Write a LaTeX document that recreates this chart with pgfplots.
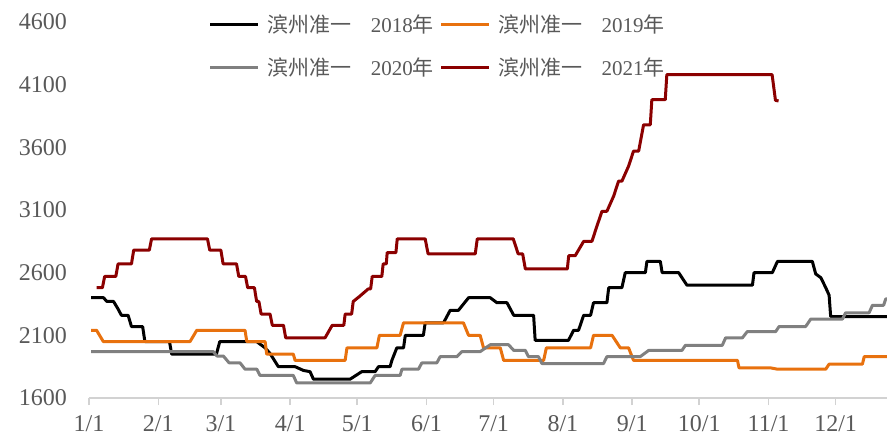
\documentclass[border=0pt]{standalone}
\usepackage{pgfplots}
\pgfplotsset{compat=1.18}
\usepackage{fontspec}
\setmainfont{Liberation Serif}
\newfontfamily\cjk{Noto Sans CJK SC}
\definecolor{txtgray}{RGB}{89,89,89}
\definecolor{axgray}{RGB}{210,210,210}
\definecolor{c19}{RGB}{232,113,14}
\definecolor{c20}{RGB}{128,128,128}
\definecolor{c21}{RGB}{139,0,0}
\newcommand{\ent}[1]{{\cjk 滨州准一}\hspace{0.9em}#1{\cjk 年}}
\begin{document}
\begin{tikzpicture}
\begin{axis}[
    scale only axis,
    width=798pt, height=376pt,
    xmin=0, xmax=357,
    ymin=1600, ymax=4600,
    ytick={1600,2100,...,4600},
    xtick={0,31,59,90,120,151,181,212,243,273,304,334},
    xticklabels={1/1,2/1,3/1,4/1,5/1,6/1,7/1,8/1,9/1,10/1,11/1,12/1},
    separate axis lines,
    axis x line*=bottom,
    axis y line*=left,
    x axis line style={draw=axgray, line width=1.5pt, -},
    y axis line style={draw=none},
    ytick style={draw=none},
    xtick style={draw=axgray, line width=1.5pt},
    xtick align=outside,
    major tick length=7pt,
    /pgf/number format/assume math mode=true,
    /pgf/number format/set thousands separator={},
    ticklabel style={font=\fontsize{24}{24}\selectfont, text=txtgray},
    yticklabel style={anchor=east, inner sep=0pt, xshift=-22pt},
    xticklabel style={anchor=north, inner sep=0pt, yshift=-10pt},
    clip=false,
    legend columns=2,
    legend cell align=left,
    legend style={draw=none, fill=none, at={(axis description cs:0.150,0.936)}, anchor=west,
        inner sep=0pt, row sep=24pt,
        font=\fontsize{21}{21}\selectfont, text=txtgray,
        nodes={inner sep=0pt},
        /tikz/every odd column/.append style={column sep=8pt},
        /tikz/every even column/.append style={column sep=6pt}},
    legend image code/.code={\draw[#1,line width=3pt] (0pt,0pt) -- (48pt,0pt);},
    every axis plot/.append style={line width=3pt, line join=round, no marks},
]
% 2018
\addplot[black] coordinates {
(1,2400)(6.5,2400)(8,2370)(11,2370)(13,2310)(14.5,2260)(17.5,2260)(19,2170)(24,2170)(25,2050)
(36,2050)(37,1950)(57,1950)(58.5,2050)(75,2050)(78.8,2000)(81,1955)(83.3,1890)(84.7,1850)
(92.2,1850)(95.9,1820)(98.9,1810)(100.4,1750)(116.8,1750)(122,1810)(128,1810)(129.5,1850)
(134.7,1850)(135.5,1900)(137.7,2000)(140.7,2000)(141.5,2100)(149.6,2100)(150.4,2200)
(158.6,2200)(161.6,2300)(165.3,2300)(169.8,2400)(179.5,2400)(182.5,2360)(187,2360)
(190,2260)(198.9,2260)(199.6,2060)(214.5,2060)(216.8,2140)(219,2140)(221.3,2260)(224.4,2260)
(225.7,2360)(231.7,2360)(232.5,2480)(238.4,2480)(239.9,2600)(248.9,2600)(249.6,2690)
(255.6,2690)(256.4,2600)(263.8,2600)(267.5,2500)(296.8,2500)(297.5,2600)(305.7,2600)
(308,2690)(323.6,2690)(325.1,2590)(327.4,2560)(329.6,2480)(331.1,2420)(331.8,2250)(357,2250)
};
% 2019
\addplot[c19] coordinates {
(1,2140)(3.4,2140)(6.4,2050)(45.2,2050)(48.2,2140)(69.8,2140)(70.6,2050)(78.8,2050)
(79.5,1950)(91.4,1950)(92.2,1900)(114.6,1900)(115.4,2000)(128.8,2000)(129.9,2100)
(139.2,2100)(140.7,2200)(167.5,2200)(169.8,2100)(175,2100)(176.5,2000)(184,2000)
(185.5,1900)(203.4,1900)(204.6,2000)(224.4,2000)(225.7,2100)(234,2100)(237.7,2000)
(241.4,2000)(243.6,1900)(290.1,1900)(290.8,1840)(305,1840)(308,1830)(329.6,1830)
(331.1,1870)(346,1870)(346.8,1930)(357,1930)
};
% 2020
\addplot[c20] coordinates {
(1,1970)(55.6,1970)(57.2,1935)(60.1,1935)(62.7,1880)(67.6,1880)(69.8,1830)(75.1,1830)
(76.5,1780)(91.4,1780)(92.9,1720)(125.8,1720)(128,1780)(139.2,1780)(140,1830)(147.4,1830)
(148.9,1880)(155.6,1880)(157.1,1930)(164.6,1930)(166.8,1970)(175,1970)(179.5,2025)
(187.7,2025)(190,1980)(195.2,1980)(196.6,1930)(201.1,1930)(202.6,1875)(230.2,1875)
(231.7,1930)(246.6,1930)(250.4,1980)(265.3,1980)(266.8,2020)(283.3,2020)(284.8,2080)
(292.3,2080)(294.5,2130)(307.2,2130)(308.7,2170)(320.6,2170)(322.9,2230)(337.1,2230)
(338.5,2280)(349,2280)(350.5,2340)(355.5,2340)(356.4,2390)(357,2390)
};
% 2021
\addplot[c21] coordinates {
(3.4,2480)(6,2480)(7,2570)(12,2570)(13,2670)(19,2670)(20,2780)(27,2780)(28,2870)(53,2870)
(54,2780)(59,2780)(60,2670)(66,2670)(67,2570)(70,2570)(71,2480)(74,2480)(75,2370)(76,2370)
(77,2270)(81,2270)(82,2180)(87,2180)(88,2080)(105.6,2080)(108.8,2180)(114,2180)(114.6,2270)
(117.5,2270)(118.2,2370)(121,2410)(124.9,2470)(126,2470)(126.7,2570)(131,2570)(131.6,2670)
(133,2670)(133.4,2760)(137.3,2760)(137.9,2870)(150.4,2870)(151.7,2750)(172.8,2750)
(173.7,2870)(189.8,2870)(192,2750)(194,2750)(195.2,2630)(214,2630)(214.6,2735)(217.5,2735)
(221.3,2850)(225,2850)(227.2,2970)(229.5,3090)(231.7,3090)(234.7,3210)(236.9,3330)
(238.4,3330)(241.4,3450)(243.6,3570)(245.9,3570)(248.1,3780)(251.1,3780)(251.8,3980)
(257.8,3980)(258.5,4180)(305.6,4180)(307.1,3975)(308.5,3970)
};
\legend{\ent{2018},\ent{2019},\ent{2020},\ent{2021}}
\end{axis}
\pgfresetboundingbox
\path (-89pt,-41pt) rectangle (798pt,398pt);
\end{tikzpicture}
\end{document}
